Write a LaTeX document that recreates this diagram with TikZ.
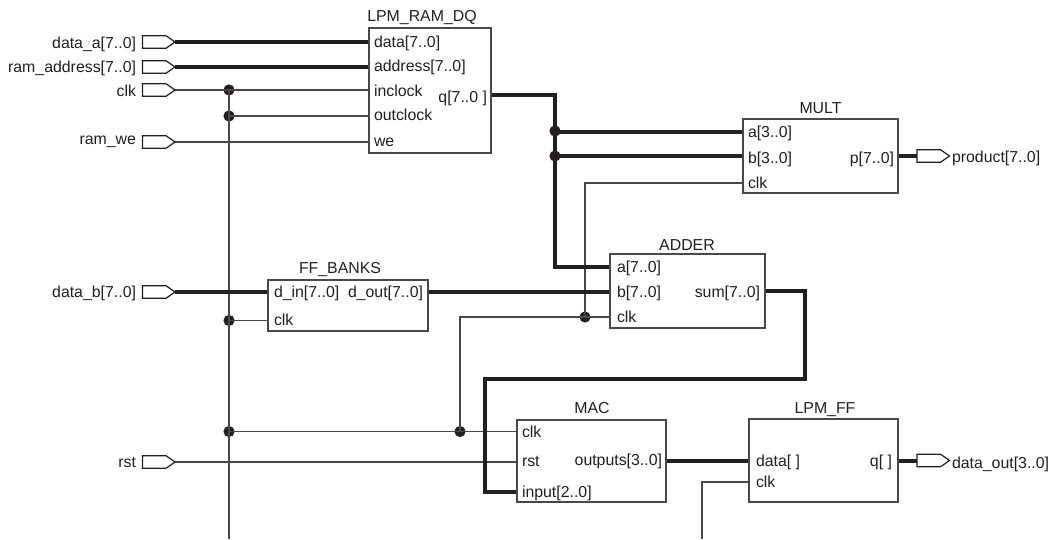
\documentclass[tikz,border=0pt]{standalone}
\usepackage{fontspec}
\setmainfont{Liberation Sans}
\definecolor{ink}{HTML}{231F20}
\definecolor{wire}{HTML}{4A4849}
\tikzset{
  x=0.75pt,y=-0.75pt,
  block/.style={draw=wire,line width=1pt,rectangle,inner sep=0pt,outer sep=0pt,fill=none},
  txt/.style={inner sep=0pt,outer sep=0pt,font=\fontsize{11.9pt}{13pt}\selectfont,text=ink},
  portl/.style={txt,anchor=base west},
  portr/.style={txt,anchor=base east},
  title/.style={txt,anchor=base},
  sig/.style={draw=wire,line width=1pt},
  bus/.style={draw=ink,line width=3pt,line join=miter},
  dot/.style={circle,fill=ink,inner sep=0pt,outer sep=0pt,minimum size=8.4pt},
  pin/.pic={\draw[draw=ink,line width=0.9pt,fill=white,line join=miter] (0,-6.3)--(23.5,-6.3)--(32.5,0)--(23.5,6.3)--(0,6.3)--cycle;}
}
\begin{document}
\begin{tikzpicture}
\useasboundingbox (0,0) rectangle (1059,539);
% ---- coordinates of pins
\coordinate (pa) at (175,42);
\coordinate (pr) at (175,67);
\coordinate (pc) at (175,90);
\coordinate (pw) at (175,142);
\coordinate (pb) at (175,292);
\coordinate (ps) at (175,462);
\coordinate (oP) at (917,156);
\coordinate (oD) at (917,461);
% ---- block ports
\coordinate (ramdata) at (369,42);
\coordinate (ramaddr) at (369,67);
\coordinate (raminc) at (369,90);
\coordinate (ramout) at (369,116);
\coordinate (ramwe) at (369,142);
\coordinate (ramq) at (491,95);
\coordinate (ma) at (743,132);
\coordinate (mb) at (743,156);
\coordinate (mc) at (743,183);
\coordinate (mp) at (898,156);
\coordinate (ada) at (610,267);
\coordinate (adb) at (610,292);
\coordinate (adc) at (610,317);
\coordinate (ads) at (765,291);
\coordinate (ffd) at (268,292);
\coordinate (ffc) at (268,320.5);
\coordinate (ffo) at (428,292);
\coordinate (macc) at (517,431.5);
\coordinate (macr) at (517,462);
\coordinate (maci) at (517,492);
\coordinate (maco) at (666,461);
\coordinate (lfd) at (749,461);
\coordinate (lfc) at (749,482);
\coordinate (lfq) at (898,461);
% ---- free ends and bends
\coordinate (clkbottom) at (229,539);
\coordinate (lfbottom) at (702,539);
% ---- junctions
\node[dot] (j1) at (229,90) {};
\node[dot] (j2) at (229,116) {};
\node[dot] (j3) at (229,320.5) {};
\node[dot] (j4) at (229,431.5) {};
\node[dot] (j5) at (460,431.5) {};
\node[dot] (j6) at (585,317) {};
\node[dot] (j7) at (555,131) {};
\node[dot] (j8) at (555,156) {};
% ---- thin wires
\draw[sig] (pc) -- (raminc);
\draw[sig] (j1.center) -- (clkbottom);
\draw[sig] (j2.center) -- (ramout);
\draw[sig] (pw) -- (ramwe);
\draw[sig] (j3.center) -- (ffc);
\draw[sig] (j4.center) -- (macc);
\draw[sig] (ps) -- (macr);
\draw[sig] (j5.center) |- (adc);
\draw[sig] (j6.center) |- (mc);
\draw[sig] (lfbottom) |- (lfc);
% ---- buses
\draw[bus] (pa) -- (ramdata);
\draw[bus] (pr) -- (ramaddr);
\draw[bus] (pb) -- (ffd);
\draw[bus] (ffo) -- (adb);
\draw[bus] (ramq) -| (555,267) -- (ada);
\draw[bus] (j7.center |- ma) -- (ma);
\draw[bus] (j8.center) -- (mb);
\draw[bus] (mp) -- (oP);
\draw[bus] (ads) -| (805,379) -| (485,492) -- (maci);
\draw[bus] (maco) -- (lfd);
\draw[bus] (lfq) -- (oD);
% ---- blocks
\node[block,minimum width=91.5pt,minimum height=93.75pt] (ram) at (430,90.5) {};
\node[block,minimum width=116.25pt,minimum height=55.5pt] (mult) at (820.5,156) {};
\node[block,minimum width=116.25pt,minimum height=55.5pt] (adder) at (687.5,291) {};
\node[block,minimum width=120pt,minimum height=38.25pt] (ff) at (348,305.5) {};
\node[block,minimum width=111.75pt,minimum height=61.5pt] (mac) at (591.5,461) {};
\node[block,minimum width=111.75pt,minimum height=62.25pt] (lpmff) at (823.5,460.5) {};
% ---- titles
\node[title] (tram) at (422,21.5) {LPM\_RAM\_DQ};
\node[title] (tmult) at (820.5,113) {MULT};
\node[title] (tadd) at (687,250) {ADDER};
\node[title] (tff) at (340,273) {FF\_BANKS};
\node[title] (tmac) at (592,413) {MAC};
\node[title] (tlff) at (825,413) {LPM\_FF};
% ---- port labels
\node[portl] (l1) at (374,47) {data[7..0]};
\node[portl] (l2) at (374,71) {address[7..0]};
\node[portl] (l3) at (374,96) {inclock};
\node[portl] (l4) at (374,120) {outclock};
\node[portl] (l5) at (374,146) {we};
\node[portr] (l6) at (487,102) {q[7..0 ]};
\node[portl] (l7) at (748,137) {a[3..0]};
\node[portl] (l8) at (748,163) {b[3..0]};
\node[portl] (l9) at (748,188) {clk};
\node[portr] (l10) at (894,163) {p[7..0]};
\node[portl] (l11) at (617,272) {a[7..0]};
\node[portl] (l12) at (617,297) {b[7..0]};
\node[portl] (l13) at (617,322) {clk};
\node[portr] (l14) at (760,297) {sum[7..0]};
\node[portl] (l15) at (274,297) {d\_in[7..0]};
\node[portr] (l16) at (423,297) {d\_out[7..0]};
\node[portl] (l17) at (274,325) {clk};
\node[portl] (l18) at (522,437) {clk};
\node[portl] (l19) at (522,466) {rst};
\node[portl] (l20) at (522,497) {input[2..0]};
\node[portr] (l21) at (662,465) {outputs[3..0]};
\node[portl] (l22) at (756,466) {data[ ]};
\node[portl] (l23) at (756,487) {clk};
\node[portr] (l24) at (892,466) {q[ ]};
% ---- pins
\pic at (142.5,42) {pin};
\pic at (142.5,67) {pin};
\pic at (142.5,90) {pin};
\pic at (142.5,142) {pin};
\pic at (142.5,292) {pin};
\pic at (142.5,462) {pin};
\pic at (917,156) {pin};
\pic at (917,460.5) {pin};
\node[portr] (n1) at (136,48) {data\_a[7..0]};
\node[portr] (n2) at (136,72) {ram\_address[7..0]};
\node[portr] (n3) at (136,96) {clk};
\node[portr] (n4) at (136,144) {ram\_we};
\node[portr] (n5) at (136,297) {data\_b[7..0]};
\node[portr] (n6) at (136,467) {rst};
\node[portl] (n7) at (952,162) {product[7..0]};
\node[portl] (n8) at (952,468) {data\_out[3..0]};
\end{tikzpicture}
\end{document}
